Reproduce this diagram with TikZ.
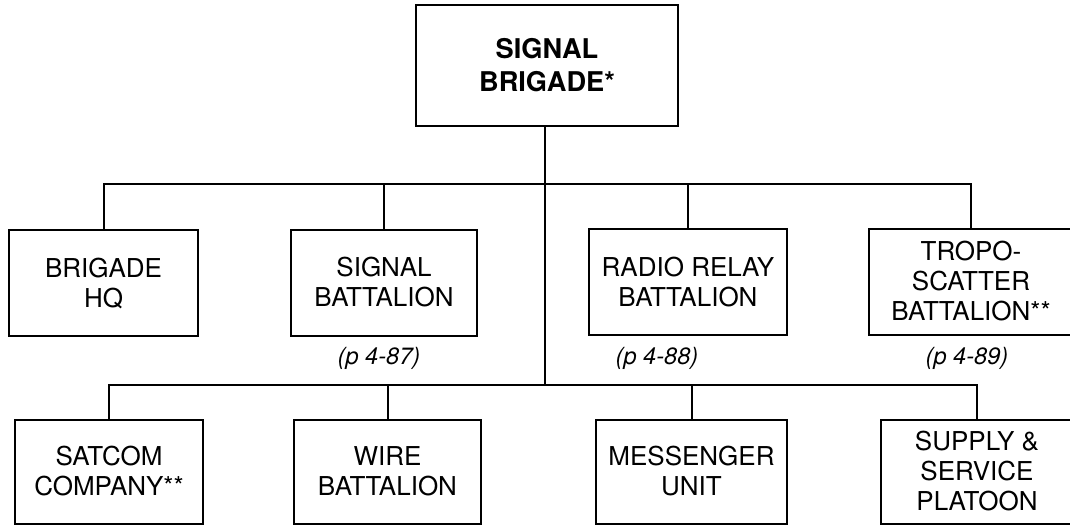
\documentclass[tikz,border=0pt]{standalone}
\usepackage{fontspec}
\setmainfont{TeX Gyre Heros}
\usepackage{tikz}
\usetikzlibrary{positioning,calc}
\tikzset{
  unit/.style    = {draw, line width=1pt, rectangle, align=center,
                    inner sep=0pt, font=\fontsize{13}{15}\selectfont},
  upper/.style   = {unit, minimum width=#1*0.5pt, minimum height=53pt},
  lower/.style   = {unit, minimum width=#1*0.5pt, minimum height=52pt},
  headunit/.style= {draw, line width=1pt, rectangle, align=center, inner sep=0pt,
                    minimum width=131pt, minimum height=60.5pt,
                    font=\fontsize{13.6}{16.5}\selectfont\bfseries},
  pageref/.style = {font=\fontsize{11.8}{14}\selectfont\itshape},
  link/.style    = {line width=1pt},
}

\begin{document}
\begin{tikzpicture}[x=0.5pt,y=-0.5pt]
\useasboundingbox (0,0) rectangle (1070,525);
% ---------- head ----------
\node[headunit] (brig) at (547,65.5) {SIGNAL\\BRIGADE*};
% ---------- first row ----------
\node[upper=189] (hq)    at (103.5,283) {BRIGADE\\HQ};
\node[upper=186] (sigbn) at (384,282.5) {SIGNAL\\BATTALION};
\node[upper=198] (rrbn)  at (688,282)   {RADIO RELAY\\BATTALION};
\node[upper=204] (tropo) at (971,281.5) {TROPO-\\SCATTER\\BATTALION**};
\node[pageref] (ref87) at (379,358) {(p 4-87)};
\node[pageref] (ref88) at (657,358) {(p 4-88)};
\node[pageref] (ref89) at (967,358) {(p 4-89)};
% ---------- second row ----------
\node[lower=188] (satcom) at (109,471.5)   {SATCOM\\COMPANY**};
\node[lower=187] (wire)   at (387.5,471.5) {WIRE\\BATTALION};
\node[lower=191] (msgr)   at (691.5,471.5) {MESSENGER\\UNIT};
\node[lower=192] (supply) at (977,471.5)   {SUPPLY \&\\SERVICE\\PLATOON};
% ---------- links ----------
\coordinate (bar1) at (545,184);
\coordinate (bar2) at (545,385);
\draw[link] (brig.south -| bar1) -- (bar2);
\draw[link] (hq.north) |- (bar1) -| (tropo.north);
\draw[link] (sigbn.north) -- (sigbn.north |- bar1);
\draw[link] (rrbn.north) -- (rrbn.north |- bar1);
\draw[link] (satcom.north) |- (bar2) -| (supply.north);
\draw[link] (wire.north) -- (wire.north |- bar2);
\draw[link] (msgr.north) -- (msgr.north |- bar2);
\end{tikzpicture}
\end{document}
